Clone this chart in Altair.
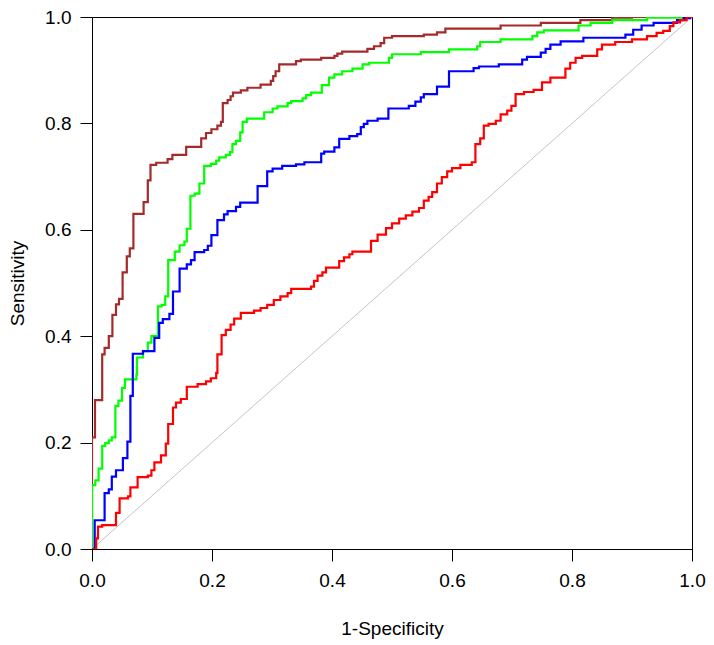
import altair as alt
import pandas as pd

brown_fpr = [0, 0, 0.005, 0.017, 0.021, 0.028, 0.034, 0.040, 0.045, 0.051,
             0.058, 0.063, 0.069, 0.086, 0.093, 0.0975, 0.107, 0.126, 0.134, 0.157,
             0.182, 0.190, 0.199, 0.209, 0.215, 0.218, 0.226, 0.231, 0.235, 0.248,
             0.259, 0.281, 0.298, 0.302, 0.306, 0.312, 0.340, 0.348, 0.382, 0.404,
             0.409, 0.417, 0.459, 0.470, 0.481, 0.487, 0.500, 0.553, 0.575, 0.589,
             0.681, 0.748, 0.814, 0.867, 0.90, 1.0]
brown_tpr = [0, 0.21, 0.28, 0.366, 0.378, 0.40, 0.44, 0.46, 0.47, 0.52,
             0.55, 0.565, 0.63, 0.652, 0.693, 0.722, 0.726, 0.733, 0.741, 0.756,
             0.772, 0.782, 0.789, 0.796, 0.803, 0.838, 0.844, 0.851, 0.858, 0.862,
             0.867, 0.873, 0.880, 0.889, 0.898, 0.911, 0.917, 0.920, 0.923, 0.927,
             0.931, 0.935, 0.940, 0.945, 0.951, 0.961, 0.964, 0.967, 0.971, 0.978,
             0.984, 0.989, 0.994, 0.999, 1.0, 1.0]

green_fpr = [0, 0, 0.0055, 0.011, 0.017, 0.022, 0.028, 0.033, 0.039, 0.044,
             0.050, 0.055, 0.074, 0.075, 0.085, 0.093, 0.099, 0.110, 0.116, 0.122,
             0.127, 0.138, 0.146, 0.154, 0.158, 0.164, 0.171, 0.179, 0.187, 0.198,
             0.207, 0.212, 0.223, 0.230, 0.234, 0.240, 0.247, 0.251, 0.258, 0.287,
             0.301, 0.309, 0.326, 0.332, 0.351, 0.357, 0.365, 0.383, 0.395, 0.404,
             0.417, 0.434, 0.451, 0.462, 0.495, 0.500, 0.548, 0.595, 0.642, 0.647,
             0.681, 0.734, 0.742, 0.753, 0.811, 0.831, 0.867, 0.925, 0.991, 1.0]
green_tpr = [0, 0.12, 0.129, 0.151, 0.194, 0.199, 0.204, 0.210, 0.269, 0.279,
             0.303, 0.319, 0.328, 0.36, 0.372, 0.388, 0.40, 0.456, 0.459, 0.475,
             0.543, 0.559, 0.571, 0.578, 0.602, 0.664, 0.668, 0.687, 0.72, 0.724,
             0.73, 0.736, 0.741, 0.746, 0.761, 0.767, 0.783, 0.803, 0.809, 0.821,
             0.828, 0.832, 0.838, 0.842, 0.847, 0.853, 0.858, 0.872, 0.886, 0.892,
             0.898, 0.903, 0.911, 0.914, 0.923, 0.930, 0.934, 0.939, 0.945, 0.953,
             0.958, 0.964, 0.971, 0.975, 0.984, 0.989, 0.994, 0.999, 1.0, 1.0]

blue_fpr = [0, 0.0045, 0.021, 0.028, 0.033, 0.040, 0.0515, 0.059, 0.064, 0.068,
            0.085, 0.104, 0.112, 0.118, 0.129, 0.135, 0.146, 0.158, 0.165, 0.171,
            0.187, 0.193, 0.199, 0.209, 0.220, 0.226, 0.240, 0.247, 0.276, 0.292,
            0.301, 0.317, 0.340, 0.354, 0.382, 0.387, 0.404, 0.412, 0.429, 0.442,
            0.448, 0.453, 0.459, 0.476, 0.494, 0.528, 0.539, 0.548, 0.553, 0.575,
            0.595, 0.636, 0.645, 0.678, 0.717, 0.725, 0.748, 0.756, 0.764, 0.781,
            0.819, 0.889, 0.902, 0.916, 0.936, 0.975, 0.986, 0.997, 1.0]
blue_tpr = [0, 0.054, 0.105, 0.112, 0.136, 0.148, 0.171, 0.202, 0.288, 0.367,
            0.372, 0.397, 0.425, 0.432, 0.442, 0.484, 0.527, 0.535, 0.543, 0.558,
            0.562, 0.570, 0.590, 0.618, 0.629, 0.635, 0.643, 0.651, 0.682, 0.710,
            0.715, 0.72, 0.723, 0.727, 0.743, 0.747, 0.755, 0.771, 0.776, 0.780,
            0.793, 0.799, 0.805, 0.809, 0.828, 0.833, 0.841, 0.849, 0.855, 0.869,
            0.898, 0.904, 0.907, 0.911, 0.920, 0.925, 0.933, 0.940, 0.948, 0.954,
            0.961, 0.967, 0.976, 0.984, 0.989, 0.994, 0.998, 1.0, 1.0]

red_fpr = [0, 0.007, 0.010, 0.017, 0.040, 0.046, 0.060, 0.064, 0.076, 0.093,
           0.099, 0.104, 0.115, 0.123, 0.127, 0.135, 0.140, 0.148, 0.158, 0.176,
           0.190, 0.198, 0.207, 0.209, 0.216, 0.223, 0.231, 0.237, 0.248, 0.270,
           0.281, 0.292, 0.303, 0.314, 0.326, 0.332, 0.365, 0.370, 0.376, 0.384,
           0.390, 0.412, 0.420, 0.429, 0.434, 0.465, 0.476, 0.490, 0.500, 0.512,
           0.523, 0.534, 0.545, 0.553, 0.561, 0.567, 0.575, 0.583, 0.592, 0.600,
           0.614, 0.633, 0.639, 0.647, 0.653, 0.661, 0.673, 0.681, 0.692, 0.699,
           0.706, 0.720, 0.736, 0.750, 0.764, 0.789, 0.797, 0.806, 0.817, 0.842,
           0.850, 0.872, 0.900, 0.925, 0.941, 0.952, 0.963, 0.969, 0.980, 0.991,
           1.0]
red_tpr = [0, 0.02, 0.042, 0.045, 0.068, 0.095, 0.099, 0.116, 0.135, 0.138,
           0.148, 0.163, 0.176, 0.198, 0.235, 0.266, 0.275, 0.282, 0.305, 0.310,
           0.315, 0.321, 0.331, 0.366, 0.402, 0.412, 0.422, 0.433, 0.444, 0.448,
           0.453, 0.459, 0.468, 0.475, 0.481, 0.489, 0.493, 0.504, 0.514, 0.520,
           0.529, 0.541, 0.548, 0.554, 0.559, 0.579, 0.591, 0.603, 0.612, 0.621,
           0.627, 0.634, 0.641, 0.655, 0.662, 0.671, 0.687, 0.699, 0.710, 0.716,
           0.722, 0.727, 0.761, 0.772, 0.796, 0.799, 0.805, 0.817, 0.824, 0.833,
           0.855, 0.859, 0.863, 0.877, 0.886, 0.903, 0.914, 0.923, 0.927, 0.939,
           0.948, 0.953, 0.958, 0.964, 0.970, 0.974, 0.983, 0.990, 0.994, 1.0,
           1.0]

diag_x = [0, 1]
diag_y = [0, 1]

curves = [
    ("brown", brown_fpr, brown_tpr, "#A52A2A"),
    ("green", green_fpr, green_tpr, "#00FF00"),
    ("blue", blue_fpr, blue_tpr, "#0000FF"),
    ("red", red_fpr, red_tpr, "#FF0000"),
]

ticks = [0, 0.2, 0.4, 0.6, 0.8, 1.0]
FONT = "Liberation Sans"

xscale = alt.Scale(domain=[0, 1], nice=False, zero=False)
yscale = alt.Scale(domain=[0, 1], nice=False, zero=False)
xaxis = alt.Axis(values=ticks, format=".1f", title="1-Specificity", grid=False,
                 tickSize=12, labelPadding=10, titlePadding=29, labelFlush=False)
yaxis = alt.Axis(values=ticks, format=".1f", title="Sensitivity", grid=False,
                 tickSize=12, labelPadding=9, titlePadding=17, labelFlush=False)

diag_df = pd.DataFrame({"x": diag_x, "y": diag_y})
layers = [
    alt.Chart(diag_df).mark_line(color="#C4C4C4", strokeWidth=1, clip=True).encode(
        x=alt.X("x:Q", scale=xscale, axis=xaxis),
        y=alt.Y("y:Q", scale=yscale, axis=yaxis),
    )
]
for name, fx, ty, col in curves:
    df = pd.DataFrame({"fpr": fx, "tpr": ty, "i": list(range(len(fx)))})
    layers.append(
        alt.Chart(df).mark_line(color=col, strokeWidth=2.2, interpolate="step-after", clip=True).encode(
            x=alt.X("fpr:Q", scale=xscale, axis=xaxis),
            y=alt.Y("tpr:Q", scale=yscale, axis=yaxis),
            order=alt.Order("i:Q"),
        )
    )

chart = alt.layer(*layers).properties(
    width=600, height=532,
    autosize=alt.AutoSizeParams(type="none"),
    padding={"left": 84, "top": 9, "right": 14, "bottom": 96},
    background="white",
).configure_view(
    stroke="black", strokeWidth=1
).configure_axis(
    domainColor="black", tickColor="black", labelColor="black", titleColor="black",
    labelFont=FONT, titleFont=FONT, labelFontSize=19, titleFontSize=19,
    titleFontWeight="normal", domainWidth=1, tickWidth=1,
)

chart.save("out.html", embed_options={"renderer": "svg", "actions": False})
